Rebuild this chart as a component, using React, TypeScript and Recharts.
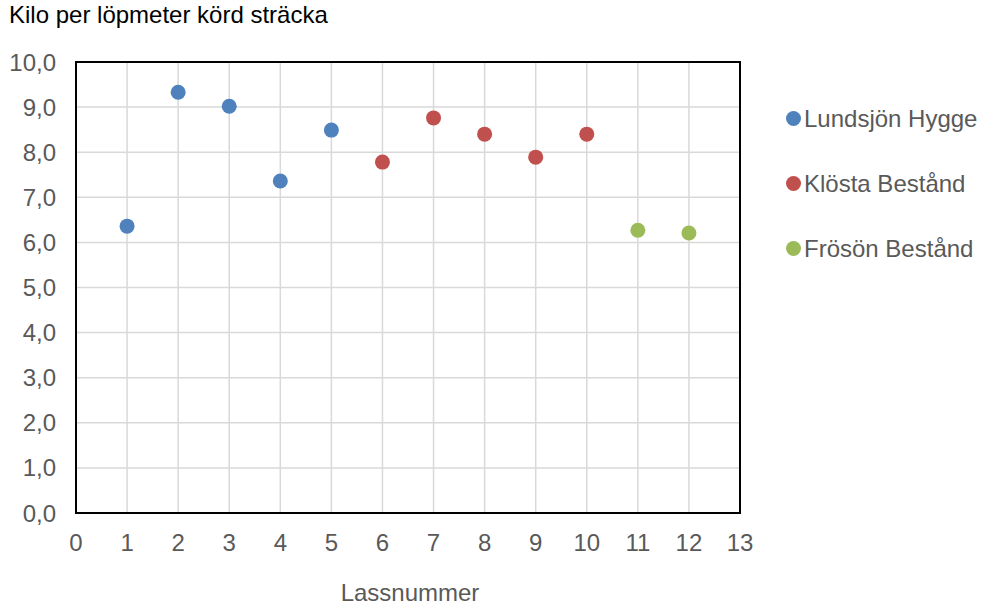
import { ScatterChart, Scatter, XAxis, YAxis, CartesianGrid, ReferenceArea } from "recharts";

const lundsjon = [
  { x: 1, y: 6.36 },
  { x: 2, y: 9.33 },
  { x: 3, y: 9.02 },
  { x: 4, y: 7.36 },
  { x: 5, y: 8.49 },
];
const klosta = [
  { x: 6, y: 7.78 },
  { x: 7, y: 8.76 },
  { x: 8, y: 8.4 },
  { x: 9, y: 7.89 },
  { x: 10, y: 8.4 },
];
const froson = [
  { x: 11, y: 6.27 },
  { x: 12, y: 6.21 },
];
const xTicks = [0, 1, 2, 3, 4, 5, 6, 7, 8, 9, 10, 11, 12, 13];
const yTicks = [0, 1, 2, 3, 4, 5, 6, 7, 8, 9, 10];

const series = [
  { name: "Lundsjön Hygge", color: "#4F81BD", data: lundsjon },
  { name: "Klösta Bestånd", color: "#C0504D", data: klosta },
  { name: "Frösön Bestånd", color: "#9BBB59", data: froson },
];

const FONT = "'Liberation Sans', Arial, sans-serif";
const TEXT = "#595959";

const dot = (color: string) => (p: any) => (
  <circle cx={p.cx} cy={p.cy} r={7.5} fill={color} />
);

export default function App() {
  return (
    <div style={{ position: "absolute", left: 0, top: 0, width: 982, height: 606, background: "#fff", fontFamily: FONT }}>
      <div style={{ position: "absolute", left: 9, top: 1, fontSize: 24, color: "#000", whiteSpace: "nowrap" }}>
        Kilo per löpmeter körd sträcka
      </div>
      <ScatterChart width={982} height={606} margin={{ top: 62, right: 242, bottom: 0, left: 0 }}>
        <CartesianGrid stroke="#D9D9D9" strokeWidth={1.5} />
        <XAxis
          type="number"
          dataKey="x"
          domain={[0, 13]}
          ticks={xTicks}
          interval={0}
          tickLine={false}
          axisLine={false}
          tickSize={0}
          tickMargin={21}
          height={93}
          tick={{ fontSize: 24, fill: TEXT, fontFamily: FONT }}
          label={{ value: "Lassnummer", position: "insideBottom", offset: 5, dx: 2, fontSize: 24, fill: TEXT, fontFamily: FONT }}
        />
        <YAxis
          type="number"
          dataKey="y"
          domain={[0, 10]}
          ticks={yTicks}
          interval={0}
          tickLine={false}
          axisLine={false}
          tickSize={0}
          tickMargin={20}
          width={76}
          tickFormatter={(v: number) => v.toFixed(1).replace(".", ",")}
          tick={{ fontSize: 24, fill: TEXT, fontFamily: FONT }}
        />
        <ReferenceArea x1={0} x2={13} y1={0} y2={10} fill="none" stroke="#000" strokeWidth={2} fillOpacity={0} />
        {series.map((s) => (
          <Scatter key={s.name} name={s.name} data={s.data} fill={s.color} shape={dot(s.color)} isAnimationActive={false} />
        ))}
      </ScatterChart>
      <div style={{ position: "absolute", left: 786, top: 86 }}>
        {series.map((s) => (
          <div key={s.name} style={{ display: "flex", alignItems: "center", height: 65, fontSize: 24, color: TEXT, whiteSpace: "nowrap" }}>
            <span style={{ width: 15, height: 15, borderRadius: 8, background: s.color, marginRight: 3 }} />
            {s.name}
          </div>
        ))}
      </div>
    </div>
  );
}
